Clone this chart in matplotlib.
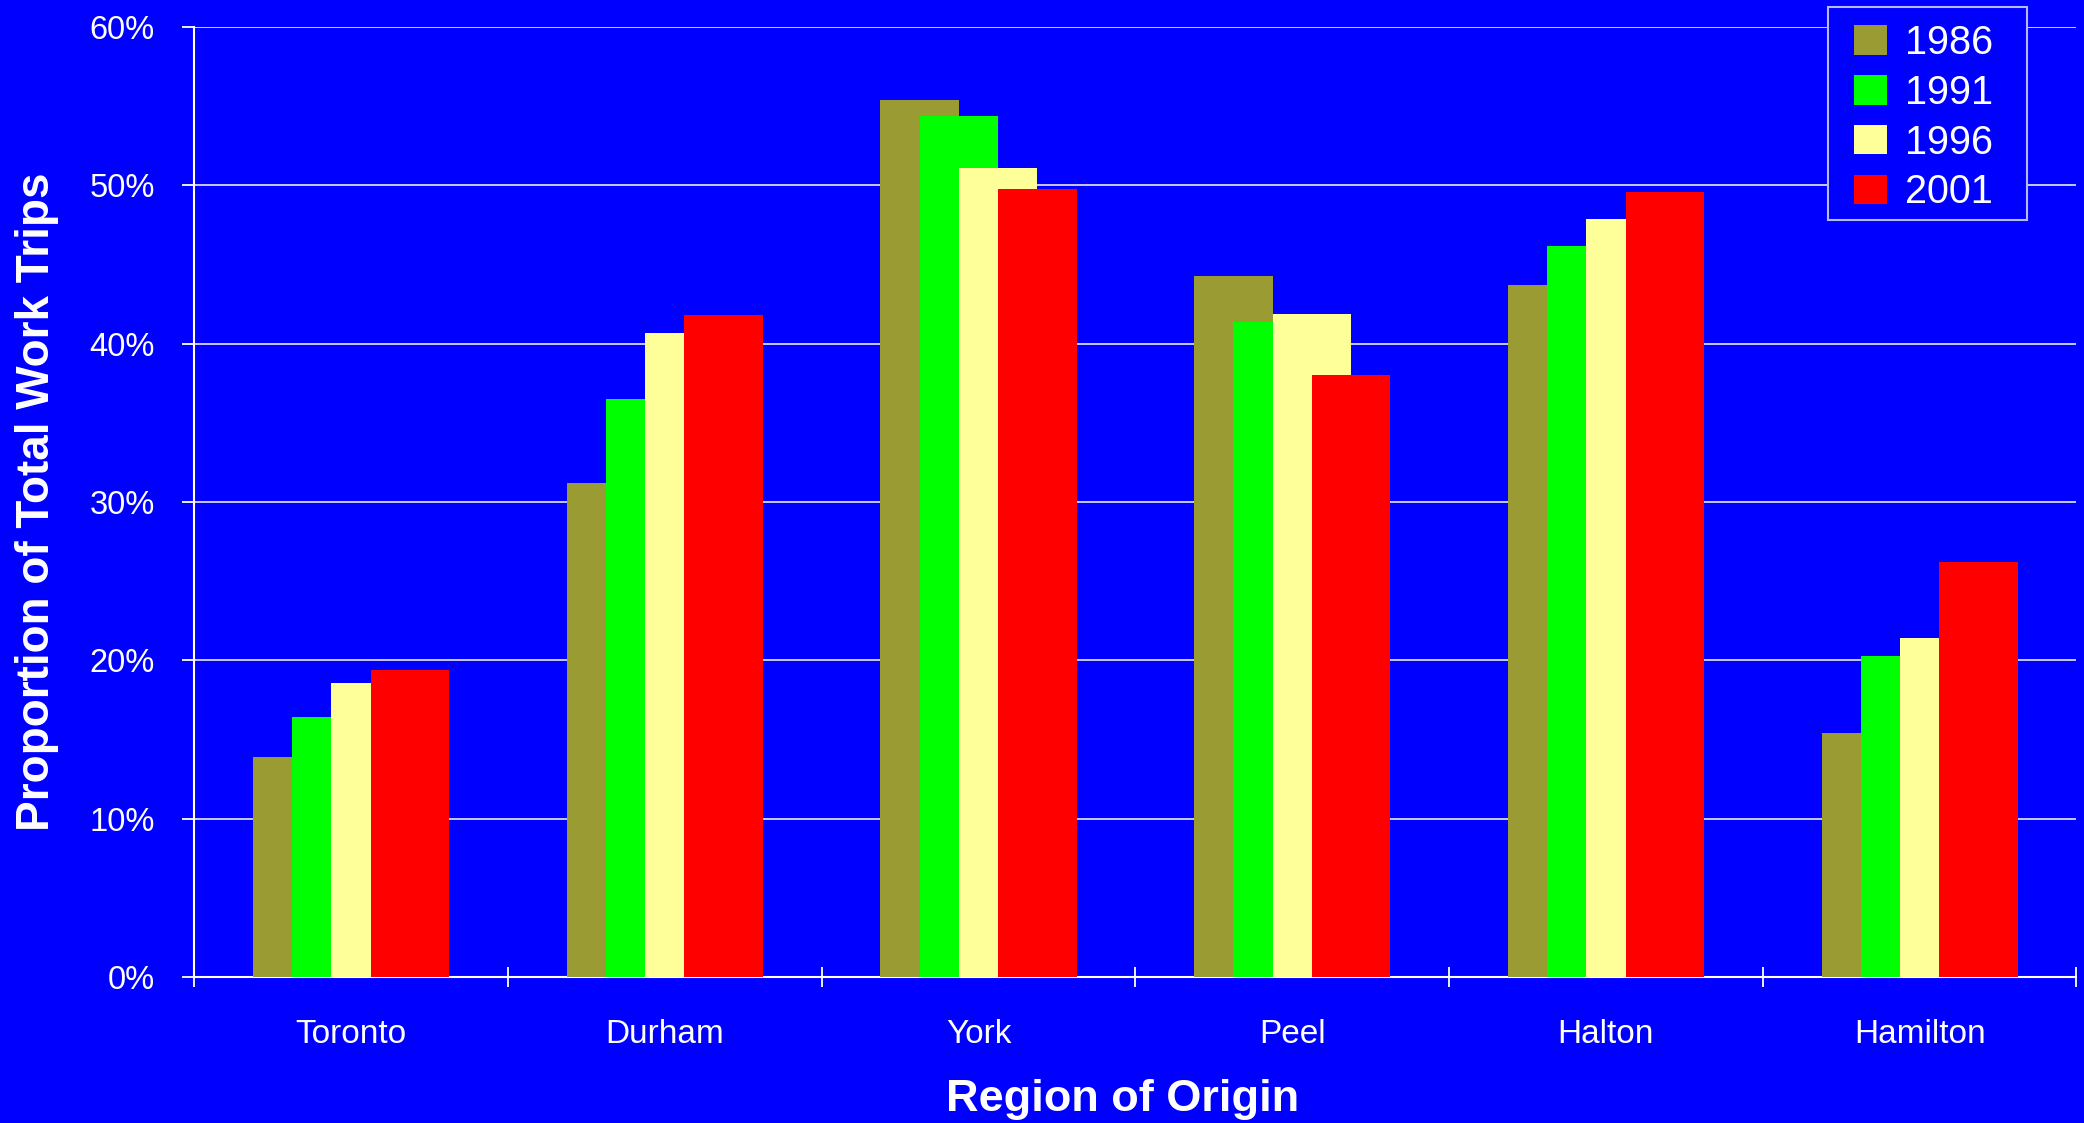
import numpy as np
import matplotlib
matplotlib.use("Agg")
import matplotlib.pyplot as plt
from matplotlib.patches import Rectangle

# Values (percent of total work trips)
regions = ["Toronto", "Durham", "York", "Peel", "Halton", "Hamilton"]
years = ["1986", "1991", "1996", "2001"]
share_1986 = [13.9, 31.2, 55.4, 44.3, 43.7, 15.4]
share_1991 = [16.4, 36.5, 54.4, 41.4, 46.2, 20.3]
share_1996 = [18.6, 40.7, 51.1, 41.9, 47.9, 21.4]
share_2001 = [19.4, 41.8, 49.8, 38.0, 49.6, 26.2]
colors = ["#9b9b33", "#00ff00", "#ffff99", "#ff0000"]

blue = "#0000ff"
plt.rcParams["font.family"] = ["Liberation Sans", "DejaVu Sans"]

fig = plt.figure(figsize=(20.84, 11.23), dpi=100, facecolor=blue)
ax = fig.add_axes([0.0932, 0.130, 0.9032, 0.8459], facecolor=blue)

x = np.arange(len(regions))
width = 0.25
step = 0.125  # bars overlap by half
series = [share_1986, share_1991, share_1996, share_2001]
for i, (vals, col, yr) in enumerate(zip(series, colors, years)):
    ax.bar(x + (i - 1.5) * step, vals, width, color=col, label=yr,
           zorder=3 + i, linewidth=0)

ax.set_xlim(-0.5, len(regions) - 0.5)
ax.set_ylim(0, 60)

# gridlines
ax.set_yticks(np.arange(0, 61, 10))
ax.set_yticklabels([f"{v}%" for v in range(0, 61, 10)])
ax.yaxis.grid(True, color="#d8d8ff", linewidth=1.3, zorder=1)
ax.set_axisbelow(True)

# category boundary ticks, labels at centres
ax.set_xticks(np.arange(-0.5, len(regions), 1.0))
ax.set_xticklabels([])
ax.set_xticks(x, minor=True)
ax.set_xticklabels(regions, minor=True)
ax.tick_params(axis="x", which="major", direction="inout", length=15,
               width=1.3, color="white")
ax.tick_params(axis="x", which="minor", length=0, pad=30,
               labelsize=24, labelcolor="white")
ax.tick_params(axis="y", direction="out", length=8.5, width=1.3,
               color="white", labelsize=23.5, labelcolor="white", pad=20)

for s in ["top", "right"]:
    ax.spines[s].set_visible(False)
for s in ["left", "bottom"]:
    ax.spines[s].set_color("white")
    ax.spines[s].set_linewidth(1.5)

ax.set_ylabel("Proportion of Total Work Trips", fontsize=33,
              fontweight="bold", color="white", labelpad=22)
ax.set_xlabel("Region of Origin", fontsize=32.5, fontweight="bold",
              color="white", labelpad=21)
ax.xaxis.label.set_x(0.493)

# legend box drawn separately so its padding can match
ax.add_patch(Rectangle((1828 / 2084, 1 - 220 / 1123), 199 / 2084,
                       213 / 1123, transform=fig.transFigure,
                       facecolor=blue, edgecolor="#b8b8ff",
                       linewidth=1.5, zorder=10, clip_on=False))
leg = ax.legend(loc="upper left", bbox_to_anchor=(1830 / 2084, 1.0),
                bbox_transform=fig.transFigure, borderaxespad=0,
                fontsize=28.5, frameon=False,
                handlelength=0.85, handleheight=0.77, handletextpad=0.45,
                labelspacing=0.3, borderpad=0.6)
leg.set_zorder(11)
for t in leg.get_texts():
    t.set_color("white")

fig.savefig("out.png", dpi=100, facecolor=blue)
